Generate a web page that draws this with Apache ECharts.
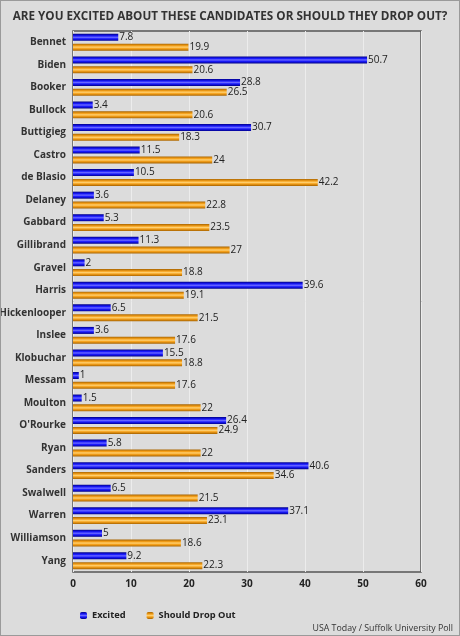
<!DOCTYPE html>
<html><head><meta charset="utf-8">
<script src="https://cdn.jsdelivr.net/npm/echarts@6/dist/echarts.min.js"></script>
<style>html,body{margin:0;padding:0;background:#dcdcdc}#c{width:460px;height:636px;box-sizing:border-box;border:1px solid #9a9a9a}</style>
</head><body><div id="c"></div>
<script>
const title = "ARE YOU EXCITED ABOUT THESE CANDIDATES OR SHOULD THEY DROP OUT?";
const source = "USA Today / Suffolk University Poll";
const categories = ["Bennet","Biden","Booker","Bullock","Buttigieg","Castro","de Blasio","Delaney","Gabbard","Gillibrand","Gravel","Harris","Hickenlooper","Inslee","Klobuchar","Messam","Moulton","O'Rourke","Ryan","Sanders","Swalwell","Warren","Williamson","Yang"];
const excited = [7.8,50.7,28.8,3.4,30.7,11.5,10.5,3.6,5.3,11.3,2,39.6,6.5,3.6,15.5,1,1.5,26.4,5.8,40.6,6.5,37.1,5,9.2];
const dropOut = [19.9,20.6,26.5,20.6,18.3,24,42.2,22.8,23.5,27,18.8,19.1,21.5,17.6,18.8,17.6,22,24.9,22,34.6,21.5,23.1,18.6,22.3];
const seriesNames = ["Excited","Should Drop Out"];

const blue = new echarts.graphic.LinearGradient(0,0,0,1,[
  {offset:0,color:'#00008a'},{offset:0.3,color:'#1a1aff'},{offset:0.5,color:'#6a6aff'},{offset:0.7,color:'#1a1aff'},{offset:1,color:'#00008a'}]);
const orange = new echarts.graphic.LinearGradient(0,0,0,1,[
  {offset:0,color:'#a86400'},{offset:0.3,color:'#f5a01a'},{offset:0.5,color:'#ffd070'},{offset:0.7,color:'#f5a01a'},{offset:1,color:'#a86400'}]);
const FONT = "'Open Sans', sans-serif";
const chart = echarts.init(document.getElementById('c'));
chart.setOption({
  backgroundColor:'#dcdcdc',
  animation:false,
  textStyle:{fontFamily:FONT},
  title:{text:title,left:'center',top:5,textStyle:{fontFamily:FONT,fontSize:11.7,fontWeight:'bold',color:'#333'}},
  legend:{data:seriesNames,left:74,top:605,itemWidth:7,itemHeight:7,itemGap:21,
    textStyle:{fontFamily:FONT,fontSize:9.3,fontWeight:'bold',color:'#222'}},
  graphic:[{type:'text',right:6,bottom:2,style:{text:source,font:"8.8px 'Open Sans', sans-serif",fill:'#333'}}],
  grid:{left:72,right:38,top:30,bottom:63,containLabel:false,outerBoundsMode:'none',show:true,borderColor:'#555',borderWidth:1.5,backgroundColor:'#dcdcdc'},
  xAxis:{type:'value',min:0,max:60,interval:10,
    axisLine:{show:false},axisTick:{show:false},
    splitLine:{lineStyle:{color:'#ececec',width:1}},
    axisLabel:{fontFamily:FONT,fontSize:10,fontWeight:'bold',color:'#222',margin:7}},
  yAxis:{type:'category',data:categories,inverse:true,
    axisLine:{show:false},axisTick:{show:false},
    axisLabel:{fontFamily:FONT,fontSize:10,fontWeight:'bold',color:'#333',margin:7}},
  series:[
    {name:seriesNames[0],type:'bar',data:excited,barWidth:7,barGap:'40%',
      itemStyle:{color:blue},
      label:{show:true,position:'right',distance:1,fontFamily:FONT,fontSize:10,color:'#222'}},
    {name:seriesNames[1],type:'bar',data:dropOut,barWidth:7,
      itemStyle:{color:orange},
      label:{show:true,position:'right',distance:1,fontFamily:FONT,fontSize:10,color:'#222'}}
  ]
});
</script></body></html>
